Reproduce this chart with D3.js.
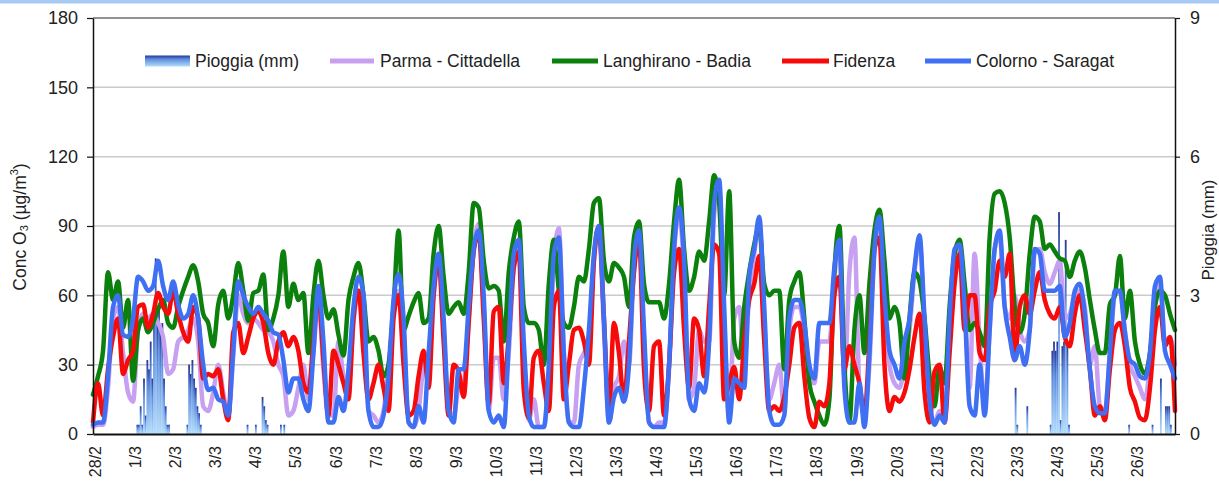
<!DOCTYPE html>
<html>
<head>
<meta charset="utf-8">
<script src="https://cdn.jsdelivr.net/npm/d3@7"></script>
<style>
  html, body { margin: 0; padding: 0; background: #fff; }
  svg { display: block; font-family: "Liberation Sans", Arial, sans-serif; }
</style>
</head>
<body>
<svg id="chart" width="1219" height="484"></svg>
<script>
// Day labels along the time axis (one per day, 28 Feb to 26 Mar)
const dayLabels = ["28/2","1/3","2/3","3/3","4/3","5/3","6/3","7/3","8/3","9/3","10/3","11/3","12/3","13/3",
  "14/3","15/3","16/3","17/3","18/3","19/3","20/3","21/3","22/3","23/3","24/3","25/3","26/3"];
const concTicks = [0, 30, 60, 90, 120, 150, 180];
const rainTicks = [0, 3, 6, 9];
const stepHours = 3; // one O3 value every 3 hours

// O3 concentration (µg/m³), 8 values per day + closing value
const parma = [
  3,4,4,20,50,55,35,18,      14,45,52,50,52,48,42,26,   28,40,42,45,50,40,12,10,
  18,30,18,8,34,60,52,48,    50,48,45,44,40,30,25,8,    10,20,30,15,35,58,28,8,
  8,40,25,20,48,62,50,10,    8,5,10,30,55,62,45,5,      3,10,30,35,60,76,45,10,
  8,20,22,50,80,91,55,10,    33,33,15,35,72,80,35,6,    15,3,3,25,75,89,35,5,
  5,30,35,40,75,88,45,5,     20,25,40,30,72,85,40,5,    3,5,5,28,78,95,70,15,
  20,45,40,40,95,105,50,8,   50,55,30,60,78,90,50,15,   22,30,10,45,55,55,45,25,
  22,40,40,40,68,80,25,70,   85,20,8,30,78,92,55,30,    22,20,30,45,70,84,45,12,
  5,10,8,45,78,80,58,20,     78,40,12,45,80,86,55,50,   60,45,40,45,78,80,70,65,
  70,75,50,52,60,62,55,30,   38,12,10,35,60,62,45,30,   25,20,15,30,60,65,40,42,
  30
];
const langhirano = [
  17,25,36,70,58,66,46,58,   23,45,50,44,48,54,58,48,   46,55,62,68,73,66,52,48,
  38,56,62,50,60,74,62,49,   61,62,69,45,50,60,79,55,   65,58,61,35,60,75,60,50,
  54,43,34,58,68,74,60,40,   42,36,25,30,55,88,45,51,   57,61,48,50,78,90,68,52,
  55,57,52,70,100,98,75,63,  64,62,40,70,85,92,55,48,   48,45,30,65,84,62,48,46,
  55,68,66,80,100,102,75,66, 74,72,68,55,85,92,65,57,   57,57,50,65,92,110,80,62,
  68,79,75,92,112,100,60,105, 40,33,55,70,82,90,65,60,  62,62,28,58,66,70,50,22,
  14,8,4,15,70,90,30,5,      45,60,35,65,88,97,75,50,   55,48,24,50,70,66,50,25,
  12,29,22,55,78,84,65,45,   48,44,38,85,104,105,100,85, 55,44,52,78,94,92,80,82,
  79,76,75,68,75,79,72,58,   45,35,35,56,60,77,50,62,   40,30,26,35,55,62,60,52,
  45
];
const fidenza = [
  5,22,8,28,42,50,26,32,     36,55,56,46,52,61,55,52,   62,52,44,40,55,50,24,26,
  25,28,15,6,44,48,35,42,    50,53,48,35,30,40,44,38,   42,36,22,18,40,60,32,8,
  36,30,22,15,50,62,35,15,   22,30,20,10,50,60,30,8,    10,25,36,20,60,75,40,8,
  30,27,16,48,79,87,50,13,   53,55,22,42,72,79,19,7,    33,36,22,10,55,62,15,30,
  45,46,40,30,75,90,50,10,   48,35,15,40,70,85,28,10,   38,40,8,30,70,80,45,20,
  50,45,25,55,82,78,15,22,   29,15,40,58,65,77,40,10,   12,10,16,30,46,48,25,7,
  3,14,12,22,60,68,28,38,    30,22,8,40,80,85,30,10,    16,14,18,28,42,52,18,5,
  27,30,5,35,65,78,45,60,    60,35,32,55,62,75,68,78,   32,55,60,52,62,70,58,52,
  50,55,42,38,52,60,45,28,   8,12,6,28,45,48,38,20,     14,7,6,20,45,55,38,42,
  10
];
const colorno = [
  4,5,5,25,55,60,43,42,      50,68,66,62,64,75,64,58,   66,56,50,52,60,50,30,19,
  20,15,14,8,36,66,60,55,    52,55,52,49,44,43,32,18,   24,24,15,10,35,64,40,5,
  5,16,10,28,55,68,60,10,    3,3,8,25,58,69,50,5,       3,12,5,35,64,78,50,10,
  5,28,28,55,80,88,60,10,    5,8,3,40,78,84,40,8,       3,3,3,30,78,85,35,5,
  3,3,20,45,78,90,50,5,      16,20,14,30,75,88,45,5,    3,3,3,30,80,98,75,15,
  10,22,18,40,100,110,55,5,  24,22,20,68,80,94,55,10,   4,4,8,50,58,58,48,30,
  24,48,48,48,72,84,20,5,    5,22,3,35,80,94,60,36,     30,24,40,50,72,86,50,15,
  4,8,5,50,80,82,55,12,      8,30,8,45,80,88,55,42,     32,38,30,45,80,78,62,62,
  62,64,42,48,62,65,52,28,   12,9,9,35,62,62,44,32,     30,25,24,35,64,68,36,30,
  24
];

// Hourly rainfall (mm): hour index from 28/2 00:00 and amount
const rainHour = [26,27,28,29,30,31,32,33,34,35,36,37,38,39,40,41,42,43,44,45,
  56,57,58,59,60,61,62,63,64,
  92,97,101,102,103,104,112,114,
  552,553,559,
  573,574,575,576,577,578,579,580,581,582,583,584,
  620,634,639,642,643,644,645];
const rainMm = [0.2,0.2,0.6,0.2,1.2,0.4,1.6,1.4,2.0,1.2,2.6,3.8,2.4,2.8,2.2,2.4,1.2,0.6,0.2,0.2,
  0.2,1.5,1.3,1.6,1.2,1.0,0.6,0.45,0.2,
  0.2,0.2,0.8,0.6,0.3,0.2,0.2,0.2,
  1.0,0.2,0.6,
  0.2,1.8,2.0,1.8,2.0,4.8,0.3,1.9,2.0,4.2,2.0,0.2,
  0.2,0.2,1.2,0.6,0.6,0.6,0.2];

const seriesNames = ["Parma - Cittadella", "Langhirano - Badia", "Fidenza", "Colorno - Saragat"];
const seriesColors = ["#c7a0f2", "#0c800c", "#f70a0a", "#3f6ff2"];
const seriesData = [parma, langhirano, fidenza, colorno];

const svg = d3.select("#chart");
const plotL = 93, plotR = 1175, plotT = 18, plotB = 434;
const textColor = "#222";

const x = d3.scaleLinear().domain([0, dayLabels.length * 24]).range([plotL, plotR]);
const y = d3.scaleLinear().domain([0, 180]).range([plotB, plotT]);
const yRain = d3.scaleLinear().domain([0, 9]).range([plotB, plotT]);

// thin light-blue band across the top of the frame
svg.append("rect").attr("x", 0).attr("y", 0).attr("width", 1219).attr("height", 3.5).attr("fill", "#a6caf3");

// gradient used by rainfall bars and their legend key
const defs = svg.append("defs");
const grad = defs.append("linearGradient").attr("id", "rainGrad")
  .attr("x1", 0).attr("y1", 0).attr("x2", 0).attr("y2", 1);
grad.append("stop").attr("offset", "0%").attr("stop-color", "#26379a");
grad.append("stop").attr("offset", "35%").attr("stop-color", "#5f8fe0");
grad.append("stop").attr("offset", "100%").attr("stop-color", "#b3dcfb");

// horizontal gridlines
svg.append("g").selectAll("line")
  .data(concTicks.filter(d => d > 0 && d < 180))
  .join("line")
  .attr("x1", plotL).attr("x2", plotR)
  .attr("y1", d => y(d)).attr("y2", d => y(d))
  .attr("stroke", "#cbcbcb").attr("stroke-width", 1.5);

// rainfall bars (one per hour, touching neighbours)
const barW = x(1) - x(0);
svg.append("g").selectAll("rect")
  .data(rainHour.map((h, i) => ({ h, mm: rainMm[i] })))
  .join("rect")
  .attr("x", d => x(d.h))
  .attr("width", barW + 0.15)
  .attr("y", d => yRain(d.mm))
  .attr("height", d => plotB - yRain(d.mm))
  .attr("fill", "url(#rainGrad)");

// O3 lines
const line = d3.line()
  .x((d, i) => x(i * stepHours))
  .y(d => y(d))
  .curve(d3.curveMonotoneX);

svg.append("g").selectAll("path")
  .data(seriesData)
  .join("path")
  .attr("d", d => line(d))
  .attr("fill", "none")
  .attr("stroke", (d, i) => seriesColors[i])
  .attr("stroke-width", 4.5)
  .attr("stroke-linejoin", "round")
  .attr("stroke-linecap", "round");

// frame: top edge
svg.append("line").attr("x1", plotL).attr("x2", plotR).attr("y1", plotT).attr("y2", plotT)
  .attr("stroke", "#6e6e6e").attr("stroke-width", 1.5);

// left axis
const axL = svg.append("g").attr("transform", `translate(${plotL},0)`)
  .call(d3.axisLeft(y).tickValues(concTicks).tickSize(6).tickSizeOuter(0).tickPadding(9));
axL.select(".domain").attr("stroke", "#111").attr("stroke-width", 1.5);
axL.selectAll(".tick line").attr("stroke", "#111").attr("stroke-width", 1.2);
axL.selectAll("text").attr("font-size", 18).attr("fill", textColor)
  .attr("font-family", "Liberation Sans, Arial, sans-serif");

// right axis (rainfall)
const axR = svg.append("g").attr("transform", `translate(${plotR},0)`)
  .call(d3.axisRight(yRain).tickValues(rainTicks).tickSize(5).tickSizeOuter(0).tickPadding(10));
axR.select(".domain").attr("stroke", "#111").attr("stroke-width", 1.5);
axR.selectAll(".tick line").attr("stroke", "#111").attr("stroke-width", 1.2);
axR.selectAll("text").attr("font-size", 18).attr("fill", textColor)
  .attr("font-family", "Liberation Sans, Arial, sans-serif");

// bottom axis with rotated day labels
const axB = svg.append("g").attr("transform", `translate(0,${plotB})`)
  .call(d3.axisBottom(x).tickValues(dayLabels.map((d, i) => i * 24))
    .tickFormat((d, i) => dayLabels[i]).tickSize(0).tickSizeOuter(0));
axB.select(".domain").attr("stroke", "#111").attr("stroke-width", 2);
axB.selectAll("text")
  .attr("font-size", 16).attr("fill", textColor)
  .attr("font-family", "Liberation Sans, Arial, sans-serif")
  .attr("x", 0).attr("y", 0).attr("dy", "0.35em")
  .attr("text-anchor", "end")
  .attr("transform", "translate(2,12) rotate(-90)");

// axis titles
const yTitle = svg.append("text")
  .attr("transform", "translate(20,227) rotate(-90)")
  .attr("text-anchor", "middle").attr("dominant-baseline", "central")
  .attr("font-size", 17.5).attr("fill", textColor);
yTitle.append("tspan").text("Conc O");
yTitle.append("tspan").attr("font-size", 11).attr("dy", 4).text("3");
yTitle.append("tspan").attr("dy", -4).text(" (µg/m");
yTitle.append("tspan").attr("font-size", 11).attr("dy", -6).text("3");
yTitle.append("tspan").attr("dy", 6).text(")");

svg.append("text")
  .attr("transform", "translate(1208,230) rotate(-90)")
  .attr("text-anchor", "middle").attr("dominant-baseline", "central")
  .attr("font-size", 17).attr("fill", textColor)
  .text("Pioggia (mm)");

// legend
const legY = 61;
const legend = svg.append("g");
legend.append("rect").attr("x", 145).attr("y", legY - 5.5).attr("width", 45).attr("height", 11)
  .attr("fill", "url(#rainGrad)");
legend.append("text").attr("x", 195).attr("y", legY).attr("dominant-baseline", "central")
  .attr("font-size", 17.5).attr("fill", textColor).text("Pioggia (mm)");

const legendKeys = [
  { x1: 330, x2: 374, tx: 380 },
  { x1: 552, x2: 598, tx: 603 },
  { x1: 782, x2: 829, tx: 833 },
  { x1: 925, x2: 971, tx: 976 }
];
legendKeys.forEach((k, i) => {
  legend.append("line").attr("x1", k.x1).attr("x2", k.x2).attr("y1", legY).attr("y2", legY)
    .attr("stroke", seriesColors[i]).attr("stroke-width", 5);
  legend.append("text").attr("x", k.tx).attr("y", legY).attr("dominant-baseline", "central")
    .attr("font-size", 17.5).attr("fill", textColor).text(seriesNames[i]);
});
</script>
</body>
</html>
